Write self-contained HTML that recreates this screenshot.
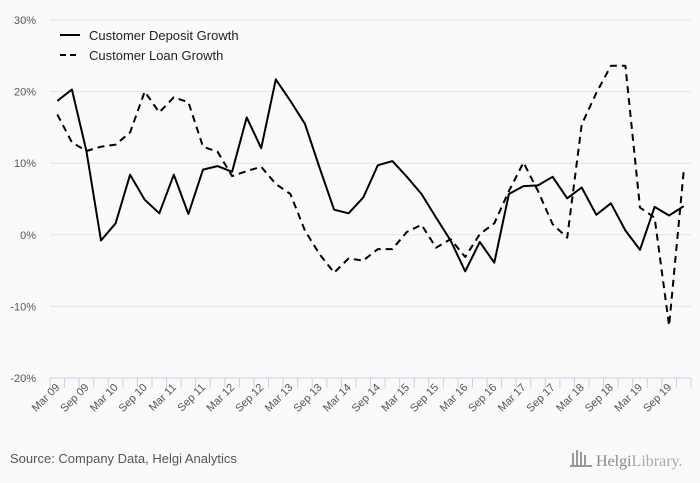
<!DOCTYPE html>
<html><head><meta charset="utf-8"><style>
html,body{margin:0;padding:0;background:#fafafa;}
svg{display:block;font-family:"Liberation Sans",sans-serif;}
</style></head><body>
<svg id="chart" width="700" height="483">
<rect width="700" height="483" fill="#fafafa"/>
<g id="grid"></g><g id="series"></g><g id="xaxis"></g>
<g>
<g>
<line x1="60" y1="35" x2="80" y2="35" stroke="#000" stroke-width="2"/>
<text x="89" y="40" font-size="13" fill="#222">Customer Deposit Growth</text></g>
<g>
<line x1="60" y1="55" x2="80" y2="55" stroke="#000" stroke-width="2" stroke-dasharray="6,4"/>
<text x="89" y="60" font-size="13" fill="#222">Customer Loan Growth</text></g>
</g>
<text x="10" y="463" font-size="13" fill="#555">Source: Company Data, Helgi Analytics</text>
<g>
<g fill="#999"><rect x="572" y="453" width="2" height="12"/><rect x="576" y="450" width="2" height="15"/><rect x="580" y="452" width="2" height="13"/><rect x="584" y="455" width="2" height="10"/><rect x="570" y="465" width="22" height="2"/></g>
<text x="596" y="466" font-size="16" fill="#888" font-family="Liberation Serif,serif">Helgi<tspan fill="#aaa">Library.</tspan></text>
</g>
</svg>
<script>
const categories=[];
(function(){const m=['Mar','Jun','Sep','Dec'];for(let y=9;y<=19;y++)for(const q of m)categories.push(q+' '+String(y).padStart(2,'0'));})();
const depositGrowth=[18.7,20.3,11.7,-0.8,1.6,8.4,4.9,3.0,8.4,2.9,9.1,9.6,8.8,16.4,12.1,21.7,18.7,15.5,9.4,3.5,3.0,5.2,9.7,10.3,8.1,5.7,2.4,-0.8,-5.1,-1.0,-3.9,5.7,6.8,6.9,8.1,5.1,6.6,2.8,4.4,0.6,-2.1,3.9,2.7,4.0];
const loanGrowth=[16.8,12.9,11.7,12.3,12.6,14.3,20.0,17.1,19.2,18.5,12.3,11.6,8.2,8.9,9.5,7.1,5.7,0.6,-2.7,-5.3,-3.3,-3.6,-2.0,-2.0,0.4,1.4,-1.8,-0.6,-3.1,0.1,1.6,6.1,10.1,6.1,1.5,-0.4,15.4,19.8,23.6,23.6,3.8,2.4,-12.7,8.9];
const yTicks=[30,20,10,0,-10,-20];
const NS='http://www.w3.org/2000/svg';
const x0=50,x1=691,yTop=20,yBot=378,vMax=30,vMin=-20;
const band=(x1-x0)/categories.length;
const xs=i=>x0+band*(i+0.5);
const ys=v=>yTop+(vMax-v)/(vMax-vMin)*(yBot-yTop);
function mk(t,a,p){const e=document.createElementNS(NS,t);for(const k in a)e.setAttribute(k,a[k]);p.appendChild(e);return e;}
const grid=document.getElementById('grid');
yTicks.forEach(v=>{
 if(v!==vMin){const l=mk('line',{x1:x0,x2:x1,y1:ys(v),y2:ys(v),stroke:'#e2e2e2','stroke-width':1},grid);
 
 }
 const t=mk('text',{x:36,y:ys(v)+4,'font-size':11,fill:'#555','text-anchor':'end'},grid);
 t.textContent=v+'%';
 
 
});
const xa=document.getElementById('xaxis');
const ax=mk('line',{x1:x0,x2:x1,y1:yBot,y2:yBot,stroke:'#c5d3e6','stroke-width':1},xa);


for(let i=0;i<=categories.length;i++){
 const tk=mk('line',{x1:x0+band*i,x2:x0+band*i,y1:yBot,y2:yBot+10,stroke:'#c5d3e6'},xa);
 
 
}
categories.forEach((c,i)=>{
 if(i%2)return;
 const x=xs(i)+3,y=yBot+10;
 const t=mk('text',{x:x,y:y,'font-size':11,fill:'#555','text-anchor':'end',transform:`rotate(-45 ${x} ${y})`},xa);
 t.textContent=c;
 
 
});
const sg=document.getElementById('series');
function line(data,dash,name){
 const d=data.map((v,i)=>(i?'L':'M')+xs(i).toFixed(1)+','+ys(v).toFixed(1)).join('');
 const p=mk('path',{d:d,fill:'none',stroke:'#000','stroke-width':2,'stroke-linejoin':'round'},sg);
 if(dash)p.setAttribute('stroke-dasharray','7,5');
 
 
}
line(loanGrowth,true,'loan-growth-line');
line(depositGrowth,false,'deposit-growth-line');
</script>
</body></html>
